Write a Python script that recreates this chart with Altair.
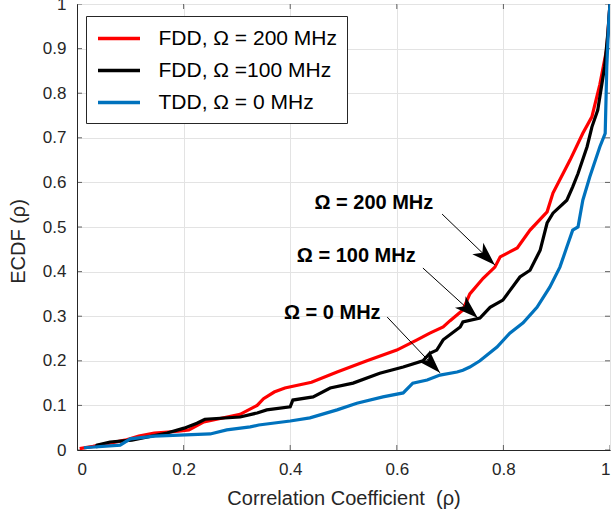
import math
import altair as alt
import pandas as pd

W, H = 533, 446
FONT = "Liberation Sans"
AX = "#262626"

series_names = ["FDD, Ω = 200 MHz", "FDD, Ω =100 MHz", "TDD, Ω = 0 MHz"]
series_colors = ["#FF0000", "#000000", "#0072BD"]

red_x = [0.005, 0.03, 0.06, 0.09, 0.116, 0.145, 0.19, 0.21, 0.238, 0.306, 0.338, 0.35, 0.37, 0.39,
         0.44, 0.488, 0.544, 0.60, 0.638, 0.662, 0.687, 0.70, 0.724, 0.737, 0.762, 0.784, 0.794,
         0.826, 0.85, 0.882, 0.893, 0.925, 0.949, 0.966, 0.981, 0.994, 1.0]
red_y = [0.003, 0.008, 0.015, 0.022, 0.031, 0.038, 0.042, 0.045, 0.063, 0.08, 0.10, 0.115, 0.13, 0.139,
         0.152, 0.175, 0.20, 0.224, 0.247, 0.262, 0.276, 0.29, 0.314, 0.35, 0.385, 0.41, 0.433,
         0.453, 0.493, 0.534, 0.576, 0.65, 0.71, 0.747, 0.82, 0.90, 1.0]

black_x = [0.035, 0.0375, 0.062, 0.103, 0.169, 0.201, 0.225, 0.24, 0.306, 0.338, 0.356, 0.40, 0.405,
           0.443, 0.475, 0.518, 0.568, 0.612, 0.649, 0.662, 0.675, 0.687, 0.719, 0.724, 0.756,
           0.775, 0.799, 0.831, 0.85, 0.869, 0.882, 0.893, 0.919, 0.93, 0.94, 0.957, 0.966, 0.977,
           0.99, 0.996, 1.0]
black_y = [0.005, 0.011, 0.018, 0.022, 0.038, 0.049, 0.06, 0.069, 0.074, 0.083, 0.09, 0.097, 0.112,
           0.119, 0.139, 0.15, 0.172, 0.186, 0.20, 0.217, 0.224, 0.247, 0.276, 0.287, 0.296,
           0.32, 0.336, 0.388, 0.403, 0.448, 0.509, 0.531, 0.56, 0.59, 0.62, 0.68, 0.724, 0.762,
           0.86, 0.935, 1.0]

blue_x = [0.013, 0.081, 0.10, 0.145, 0.25, 0.281, 0.325, 0.341, 0.40, 0.437, 0.488, 0.525,
          0.574, 0.612, 0.63, 0.657, 0.681, 0.713, 0.724, 0.737, 0.756, 0.788, 0.812, 0.837,
          0.863, 0.887, 0.906, 0.919, 0.93, 0.94, 0.949, 0.962, 0.981, 0.991, 0.994, 0.998, 1.0]
blue_y = [0.005, 0.011, 0.025, 0.031, 0.036, 0.045, 0.052, 0.056, 0.065, 0.072, 0.09, 0.105,
          0.119, 0.128, 0.15, 0.157, 0.168, 0.175, 0.179, 0.186, 0.20, 0.231, 0.262, 0.285,
          0.32, 0.365, 0.41, 0.455, 0.493, 0.50, 0.56, 0.612, 0.68, 0.71, 0.86, 0.97, 1.0]

x_ticks = [0, 0.2, 0.4, 0.6, 0.8, 1]
y_ticks = [0, 0.1, 0.2, 0.3, 0.4, 0.5, 0.6, 0.7, 0.8, 0.9, 1]

ann_text = ["Ω = 200 MHz", "Ω = 100 MHz", "Ω = 0 MHz"]
ann_x = [0.557, 0.524, 0.479]
ann_y = [0.554, 0.435, 0.307]
arrow_x1 = [0.685, 0.649, 0.582]
arrow_y1 = [0.529, 0.408, 0.298]
arrow_x2 = [0.784, 0.752, 0.681]
arrow_y2 = [0.415, 0.296, 0.173]

rows = []
for name, xs, ys in zip(series_names, [red_x, black_x, blue_x], [red_y, black_y, blue_y]):
    for i, (a, b) in enumerate(zip(xs, ys)):
        rows.append({"series": name, "x": a, "y": b, "order": i})
df = pd.DataFrame(rows)

arr = pd.DataFrame({"x": arrow_x1, "y": arrow_y1, "x2": arrow_x2, "y2": arrow_y2})
# clockwise angle from "up" in screen space (screen y grows downward)
arr["angle"] = [
    math.degrees(math.atan2((bx - ax) * W, (by - ay) * H)) % 360
    for ax, bx, ay, by in zip(arrow_x1, arrow_x2, arrow_y1, arrow_y2)
]
ann = pd.DataFrame({"x": ann_x, "y": ann_y, "text": ann_text})

xscale = alt.Scale(domain=[0, 1], nice=False, zero=False)
yscale = alt.Scale(domain=[0, 1], nice=False, zero=False)

lines = alt.Chart(df).mark_line(interpolate="linear", strokeWidth=3.2, clip=True).encode(
    x=alt.X("x:Q", scale=xscale,
            axis=alt.Axis(values=x_ticks, format="~g",
                          title="Correlation Coefficient \u00a0(ρ)",
                          titleX=W / 2, titleY=48, titleBaseline="middle", labelPadding=11)),
    y=alt.Y("y:Q", scale=yscale,
            axis=alt.Axis(values=y_ticks, format="~g", title="ECDF (ρ)",
                          titleX=-59, titleY=H / 2 + 14, titleBaseline="middle", labelPadding=11)),
    color=alt.Color("series:N",
                    scale=alt.Scale(domain=series_names, range=series_colors),
                    legend=alt.Legend(title=None, orient="none", legendX=9, legendY=12,
                                      symbolType="M-2,0L2,0", symbolSize=441,
                                      symbolStrokeWidth=3.5, symbolOffset=10.5,
                                      labelOffset=27, labelFont=FONT, labelFontSize=21,
                                      labelColor="black", labelLimit=400, rowPadding=9,
                                      padding=10, strokeColor=AX, fillColor="white",
                                      cornerRadius=0)),
    order="order:Q",
)

rules = alt.Chart(arr).mark_rule(color="black", strokeWidth=1).encode(
    x=alt.X("x:Q", scale=xscale), y=alt.Y("y:Q", scale=yscale),
    x2="x2:Q", y2="y2:Q")

heads = alt.Chart(arr).mark_point(shape="M0,0L0.5,1.5L0,1.1L-0.5,1.5Z", filled=True, size=1000,
                                  color="black", opacity=1, strokeWidth=0).encode(
    x=alt.X("x2:Q", scale=xscale), y=alt.Y("y2:Q", scale=yscale),
    angle=alt.Angle("angle:Q", scale=None))

texts = alt.Chart(ann).mark_text(font=FONT, fontSize=20, fontWeight="bold", color="black",
                                 align="center", baseline="middle").encode(
    x=alt.X("x:Q", scale=xscale), y=alt.Y("y:Q", scale=yscale), text="text:N")

xt = pd.DataFrame([{"x": v, "y": e} for v in x_ticks for e in (0, 1)])
yt = pd.DataFrame([{"x": e, "y": v} for v in y_ticks for e in (0, 1)])
xticks = alt.Chart(xt).mark_tick(orient="vertical", size=10, thickness=1, color=AX, clip=True).encode(
    x=alt.X("x:Q", scale=xscale), y=alt.Y("y:Q", scale=yscale))
yticks = alt.Chart(yt).mark_tick(orient="horizontal", size=10, thickness=1, color=AX, clip=True).encode(
    x=alt.X("x:Q", scale=xscale), y=alt.Y("y:Q", scale=yscale))

chart = alt.layer(xticks, yticks, lines, rules, heads, texts).properties(
    width=W, height=H,
    autosize=alt.AutoSizeParams(type="none"),
    padding={"left": 77, "top": 4, "right": 2, "bottom": 66},
).configure_view(stroke=AX, strokeWidth=1).configure_axis(
    grid=True, gridColor="#e3e3e3", gridWidth=1, tickSize=0, domainColor=AX,
    labelFont=FONT, labelFontSize=17, labelColor=AX,
    titleFont=FONT, titleFontSize=20, titleFontWeight="normal", titleColor=AX,
).configure_legend(strokeWidth=1)

chart.save("out.html", embed_options={"renderer": "svg", "actions": False})
